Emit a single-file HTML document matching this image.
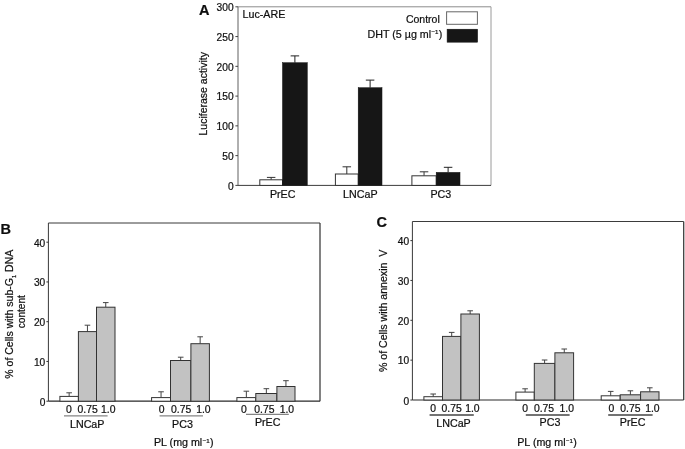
<!DOCTYPE html>
<html><head><meta charset="utf-8"><title>Figure</title>
<style>
html,body{margin:0;padding:0;background:#fff;}
svg{display:block;}
text{font-family:"Liberation Sans",sans-serif;fill:#111;stroke:#111;stroke-width:0.22;}
</style></head><body>
<svg width="685" height="449" viewBox="0 0 685 449">
<defs><filter id="soft" x="0" y="0" width="685" height="449" filterUnits="userSpaceOnUse"><feGaussianBlur stdDeviation="0.35"/></filter></defs>
<rect x="0" y="0" width="685" height="449" fill="#ffffff"/>
<g filter="url(#soft)">
<line x1="238" y1="6.8" x2="491" y2="6.8" stroke="#8c8c8c" stroke-width="1"/>
<line x1="491" y1="6.8" x2="491" y2="185.4" stroke="#9a9a9a" stroke-width="1"/>
<line x1="238" y1="6.8" x2="238" y2="185.4" stroke="#606060" stroke-width="1"/>
<line x1="238" y1="185.4" x2="491" y2="185.4" stroke="#3c3c3c" stroke-width="1"/>
<text x="199" y="14.7" font-size="14.5" text-anchor="start" font-weight="bold">A</text>
<line x1="235.4" y1="6.8" x2="238" y2="6.8" stroke="#444" stroke-width="1"/>
<text x="233.6" y="11.0" font-size="10.2" text-anchor="end">300</text>
<line x1="235.4" y1="36.56666666666666" x2="238" y2="36.56666666666666" stroke="#444" stroke-width="1"/>
<text x="233.6" y="40.766666666666666" font-size="10.2" text-anchor="end">250</text>
<line x1="235.4" y1="66.33333333333333" x2="238" y2="66.33333333333333" stroke="#444" stroke-width="1"/>
<text x="233.6" y="70.53333333333333" font-size="10.2" text-anchor="end">200</text>
<line x1="235.4" y1="96.1" x2="238" y2="96.1" stroke="#444" stroke-width="1"/>
<text x="233.6" y="100.3" font-size="10.2" text-anchor="end">150</text>
<line x1="235.4" y1="125.86666666666666" x2="238" y2="125.86666666666666" stroke="#444" stroke-width="1"/>
<text x="233.6" y="130.06666666666666" font-size="10.2" text-anchor="end">100</text>
<line x1="235.4" y1="155.63333333333335" x2="238" y2="155.63333333333335" stroke="#444" stroke-width="1"/>
<text x="233.6" y="159.83333333333334" font-size="10.2" text-anchor="end">50</text>
<line x1="235.4" y1="185.4" x2="238" y2="185.4" stroke="#444" stroke-width="1"/>
<text x="233.6" y="189.6" font-size="10.2" text-anchor="end">0</text>
<text x="207" y="93.8" font-size="10.5" text-anchor="middle" transform="rotate(-90 207 93.8)">Luciferase activity</text>
<text x="242.5" y="18.1" font-size="10.7" text-anchor="start">Luc-ARE</text>
<text x="439.8" y="23.0" font-size="10.5" text-anchor="end">Control</text>
<text x="442.3" y="37.7" font-size="10.7" text-anchor="end">DHT (5 µg ml<tspan font-size="6.1" dy="-3.4" dx="0.4">−1</tspan><tspan dy="3.4" dx="0.3">)</tspan></text>
<rect x="446.6" y="11.8" width="30.8" height="12.5" fill="#fff" stroke="#666" stroke-width="1"/>
<rect x="447.1" y="29.2" width="30.5" height="13.0" fill="#141414" stroke="#141414" stroke-width="0.5"/>
<line x1="271.15" y1="177.4" x2="271.15" y2="179.8" stroke="#333" stroke-width="1"/>
<line x1="266.9" y1="177.4" x2="275.4" y2="177.4" stroke="#333" stroke-width="1"/>
<line x1="294.9" y1="55.9" x2="294.9" y2="62.7" stroke="#222" stroke-width="1"/>
<line x1="290.65" y1="55.9" x2="299.15" y2="55.9" stroke="#222" stroke-width="1"/>
<rect x="259.8" y="179.8" width="22.7" height="5.6" fill="#fff" stroke="#333" stroke-width="1"/>
<rect x="282.5" y="62.7" width="24.8" height="122.7" fill="#141414" stroke="#141414" stroke-width="0.5"/>
<text x="282.7" y="198.0" font-size="10.7" text-anchor="middle">PrEC</text>
<line x1="346.79999999999995" y1="166.8" x2="346.79999999999995" y2="174" stroke="#333" stroke-width="1"/>
<line x1="342.54999999999995" y1="166.8" x2="351.04999999999995" y2="166.8" stroke="#333" stroke-width="1"/>
<line x1="370.1" y1="80.1" x2="370.1" y2="87.7" stroke="#222" stroke-width="1"/>
<line x1="365.85" y1="80.1" x2="374.35" y2="80.1" stroke="#222" stroke-width="1"/>
<rect x="335.4" y="174" width="22.8" height="11.4" fill="#fff" stroke="#333" stroke-width="1"/>
<rect x="358.2" y="87.7" width="23.8" height="97.7" fill="#141414" stroke="#141414" stroke-width="0.5"/>
<text x="360.3" y="198.0" font-size="10.7" text-anchor="middle">LNCaP</text>
<line x1="424.04999999999995" y1="171.8" x2="424.04999999999995" y2="175.8" stroke="#333" stroke-width="1"/>
<line x1="419.79999999999995" y1="171.8" x2="428.29999999999995" y2="171.8" stroke="#333" stroke-width="1"/>
<line x1="448.1" y1="167.3" x2="448.1" y2="172.4" stroke="#222" stroke-width="1"/>
<line x1="443.85" y1="167.3" x2="452.35" y2="167.3" stroke="#222" stroke-width="1"/>
<rect x="411.9" y="175.8" width="24.3" height="9.6" fill="#fff" stroke="#333" stroke-width="1"/>
<rect x="436.2" y="172.4" width="23.8" height="13.0" fill="#141414" stroke="#141414" stroke-width="0.5"/>
<text x="440.8" y="198.0" font-size="10.7" text-anchor="middle">PC3</text>
<line x1="48.4" y1="223.0" x2="320.0" y2="223.0" stroke="#3a3a3a" stroke-width="1"/>
<line x1="320.0" y1="223.0" x2="320.0" y2="401.2" stroke="#383838" stroke-width="1.25"/>
<line x1="48.4" y1="223.0" x2="48.4" y2="401.2" stroke="#3a3a3a" stroke-width="1"/>
<line x1="48.4" y1="401.2" x2="320.0" y2="401.2" stroke="#2a2a2a" stroke-width="1.2"/>
<text x="0.6" y="234.1" font-size="14.5" text-anchor="start" font-weight="bold">B</text>
<line x1="46.4" y1="401.2" x2="48.4" y2="401.2" stroke="#333" stroke-width="1"/>
<text x="45.300000000000004" y="406.3" font-size="10.2" text-anchor="end">0</text>
<line x1="46.4" y1="361.45" x2="48.4" y2="361.45" stroke="#333" stroke-width="1"/>
<text x="45.300000000000004" y="365.75" font-size="10.2" text-anchor="end">10</text>
<line x1="46.4" y1="321.7" x2="48.4" y2="321.7" stroke="#333" stroke-width="1"/>
<text x="45.300000000000004" y="326.0" font-size="10.2" text-anchor="end">20</text>
<line x1="46.4" y1="281.95" x2="48.4" y2="281.95" stroke="#333" stroke-width="1"/>
<text x="45.300000000000004" y="286.25" font-size="10.2" text-anchor="end">30</text>
<line x1="46.4" y1="242.2" x2="48.4" y2="242.2" stroke="#333" stroke-width="1"/>
<text x="45.300000000000004" y="246.5" font-size="10.2" text-anchor="end">40</text>
<line x1="69.15" y1="392.8" x2="69.15" y2="396.4" stroke="#444" stroke-width="1"/>
<line x1="66.35000000000001" y1="392.8" x2="71.95" y2="392.8" stroke="#444" stroke-width="1"/>
<line x1="87.45" y1="325.2" x2="87.45" y2="331.6" stroke="#444" stroke-width="1"/>
<line x1="84.65" y1="325.2" x2="90.25" y2="325.2" stroke="#444" stroke-width="1"/>
<line x1="105.75" y1="302.6" x2="105.75" y2="307.2" stroke="#444" stroke-width="1"/>
<line x1="102.95" y1="302.6" x2="108.55" y2="302.6" stroke="#444" stroke-width="1"/>
<rect x="59.9" y="396.4" width="18.5" height="4.8" fill="#fff" stroke="#333" stroke-width="1"/>
<rect x="78.4" y="331.6" width="18.1" height="69.6" fill="#c2c2c2" stroke="#333" stroke-width="1"/>
<rect x="96.5" y="307.2" width="18.5" height="94.0" fill="#c2c2c2" stroke="#333" stroke-width="1"/>
<text x="68.8" y="412.85" font-size="10.4" text-anchor="middle">0</text>
<text x="87.6" y="412.85" font-size="10.4" text-anchor="middle">0.75</text>
<text x="108.2" y="412.85" font-size="10.4" text-anchor="middle">1.0</text>
<line x1="64" y1="415.9" x2="107.6" y2="415.9" stroke="#666" stroke-width="1"/>
<text x="87.2" y="428.1" font-size="10.7" text-anchor="middle">LNCaP</text>
<line x1="161.05" y1="391.8" x2="161.05" y2="397.6" stroke="#444" stroke-width="1"/>
<line x1="158.25" y1="391.8" x2="163.85000000000002" y2="391.8" stroke="#444" stroke-width="1"/>
<line x1="180.7" y1="357.2" x2="180.7" y2="360.5" stroke="#444" stroke-width="1"/>
<line x1="177.89999999999998" y1="357.2" x2="183.5" y2="357.2" stroke="#444" stroke-width="1"/>
<line x1="200.15" y1="336.8" x2="200.15" y2="343.7" stroke="#444" stroke-width="1"/>
<line x1="197.35" y1="336.8" x2="202.95000000000002" y2="336.8" stroke="#444" stroke-width="1"/>
<rect x="151.6" y="397.6" width="18.9" height="3.6" fill="#fff" stroke="#333" stroke-width="1"/>
<rect x="170.5" y="360.5" width="20.4" height="40.7" fill="#c2c2c2" stroke="#333" stroke-width="1"/>
<rect x="190.9" y="343.7" width="18.5" height="57.5" fill="#c2c2c2" stroke="#333" stroke-width="1"/>
<text x="161.6" y="412.85" font-size="10.4" text-anchor="middle">0</text>
<text x="181.2" y="412.85" font-size="10.4" text-anchor="middle">0.75</text>
<text x="203.4" y="412.85" font-size="10.4" text-anchor="middle">1.0</text>
<line x1="159.6" y1="415.9" x2="203" y2="415.9" stroke="#666" stroke-width="1"/>
<text x="182.5" y="428.3" font-size="10.7" text-anchor="middle">PC3</text>
<line x1="246.35000000000002" y1="391.2" x2="246.35000000000002" y2="397.6" stroke="#444" stroke-width="1"/>
<line x1="243.55" y1="391.2" x2="249.15000000000003" y2="391.2" stroke="#444" stroke-width="1"/>
<line x1="266.35" y1="388.7" x2="266.35" y2="393.5" stroke="#444" stroke-width="1"/>
<line x1="263.55" y1="388.7" x2="269.15000000000003" y2="388.7" stroke="#444" stroke-width="1"/>
<line x1="285.95" y1="380.7" x2="285.95" y2="386.5" stroke="#444" stroke-width="1"/>
<line x1="283.15" y1="380.7" x2="288.75" y2="380.7" stroke="#444" stroke-width="1"/>
<rect x="236.9" y="397.6" width="18.9" height="3.6" fill="#fff" stroke="#333" stroke-width="1"/>
<rect x="255.8" y="393.5" width="21.1" height="7.7" fill="#c2c2c2" stroke="#333" stroke-width="1"/>
<rect x="276.9" y="386.5" width="18.1" height="14.7" fill="#c2c2c2" stroke="#333" stroke-width="1"/>
<text x="244" y="412.85" font-size="10.4" text-anchor="middle">0</text>
<text x="264.4" y="412.85" font-size="10.4" text-anchor="middle">0.75</text>
<text x="286.9" y="412.85" font-size="10.4" text-anchor="middle">1.0</text>
<line x1="246" y1="414.3" x2="288.8" y2="414.3" stroke="#666" stroke-width="1"/>
<text x="267.7" y="426.3" font-size="10.7" text-anchor="middle">PrEC</text>
<text x="13.0" y="314.2" font-size="10.55" text-anchor="middle" transform="rotate(-90 13.0 314.2)">% of Cells with sub-G<tspan font-size="5.6" dy="2.6">1</tspan><tspan dy="-2.6"> DNA</tspan></text>
<text x="25.5" y="311.7" font-size="10.1" text-anchor="middle" transform="rotate(-90 25.5 311.7)">content</text>
<text x="183.7" y="446" font-size="10.7" text-anchor="middle">PL (mg ml<tspan font-size="6.1" dy="-3.4" dx="0.4">−1</tspan><tspan dy="3.4" dx="0.3">)</tspan></text>
<line x1="412.4" y1="221.5" x2="683.7" y2="221.5" stroke="#3a3a3a" stroke-width="1"/>
<line x1="683.7" y1="221.5" x2="683.7" y2="400.0" stroke="#383838" stroke-width="1.25"/>
<line x1="412.4" y1="221.5" x2="412.4" y2="400.0" stroke="#3a3a3a" stroke-width="1"/>
<line x1="412.4" y1="400.0" x2="683.7" y2="400.0" stroke="#2a2a2a" stroke-width="1.2"/>
<text x="376.6" y="227.2" font-size="14.5" text-anchor="start" font-weight="bold">C</text>
<line x1="410.4" y1="400.0" x2="412.4" y2="400.0" stroke="#333" stroke-width="1"/>
<text x="409.09999999999997" y="404.6" font-size="10.2" text-anchor="end">0</text>
<line x1="410.4" y1="360.15" x2="412.4" y2="360.15" stroke="#333" stroke-width="1"/>
<text x="409.09999999999997" y="364.45" font-size="10.2" text-anchor="end">10</text>
<line x1="410.4" y1="320.3" x2="412.4" y2="320.3" stroke="#333" stroke-width="1"/>
<text x="409.09999999999997" y="324.6" font-size="10.2" text-anchor="end">20</text>
<line x1="410.4" y1="280.45" x2="412.4" y2="280.45" stroke="#333" stroke-width="1"/>
<text x="409.09999999999997" y="284.75" font-size="10.2" text-anchor="end">30</text>
<line x1="410.4" y1="240.6" x2="412.4" y2="240.6" stroke="#333" stroke-width="1"/>
<text x="409.09999999999997" y="244.9" font-size="10.2" text-anchor="end">40</text>
<line x1="433.2" y1="394.0" x2="433.2" y2="396.7" stroke="#444" stroke-width="1"/>
<line x1="430.4" y1="394.0" x2="436.0" y2="394.0" stroke="#444" stroke-width="1"/>
<line x1="451.7" y1="332.4" x2="451.7" y2="336.4" stroke="#444" stroke-width="1"/>
<line x1="448.9" y1="332.4" x2="454.5" y2="332.4" stroke="#444" stroke-width="1"/>
<line x1="470.15" y1="310.8" x2="470.15" y2="314.0" stroke="#444" stroke-width="1"/>
<line x1="467.34999999999997" y1="310.8" x2="472.95" y2="310.8" stroke="#444" stroke-width="1"/>
<rect x="423.9" y="396.7" width="18.6" height="3.3" fill="#fff" stroke="#333" stroke-width="1"/>
<rect x="442.5" y="336.4" width="18.4" height="63.6" fill="#c2c2c2" stroke="#333" stroke-width="1"/>
<rect x="460.9" y="314.0" width="18.5" height="86.0" fill="#c2c2c2" stroke="#333" stroke-width="1"/>
<text x="433.2" y="412.2" font-size="10.4" text-anchor="middle">0</text>
<text x="451.6" y="412.2" font-size="10.4" text-anchor="middle">0.75</text>
<text x="472.4" y="412.2" font-size="10.4" text-anchor="middle">1.0</text>
<line x1="429.6" y1="415.0" x2="473.8" y2="415.0" stroke="#444" stroke-width="1.4"/>
<text x="453.5" y="426.8" font-size="10.7" text-anchor="middle">LNCaP</text>
<line x1="525.0999999999999" y1="388.8" x2="525.0999999999999" y2="392.1" stroke="#444" stroke-width="1"/>
<line x1="522.3" y1="388.8" x2="527.8999999999999" y2="388.8" stroke="#444" stroke-width="1"/>
<line x1="544.5999999999999" y1="360.0" x2="544.5999999999999" y2="363.4" stroke="#444" stroke-width="1"/>
<line x1="541.8" y1="360.0" x2="547.3999999999999" y2="360.0" stroke="#444" stroke-width="1"/>
<line x1="564.25" y1="349.0" x2="564.25" y2="352.8" stroke="#444" stroke-width="1"/>
<line x1="561.45" y1="349.0" x2="567.05" y2="349.0" stroke="#444" stroke-width="1"/>
<rect x="515.9" y="392.1" width="18.4" height="7.9" fill="#fff" stroke="#333" stroke-width="1"/>
<rect x="534.3" y="363.4" width="20.6" height="36.6" fill="#c2c2c2" stroke="#333" stroke-width="1"/>
<rect x="554.9" y="352.8" width="18.7" height="47.2" fill="#c2c2c2" stroke="#333" stroke-width="1"/>
<text x="525.2" y="412.2" font-size="10.4" text-anchor="middle">0</text>
<text x="544" y="412.2" font-size="10.4" text-anchor="middle">0.75</text>
<text x="566.8" y="412.2" font-size="10.4" text-anchor="middle">1.0</text>
<line x1="525.8" y1="415.0" x2="569.6" y2="415.0" stroke="#444" stroke-width="1.4"/>
<text x="550" y="426.2" font-size="10.7" text-anchor="middle">PC3</text>
<line x1="610.7" y1="391.4" x2="610.7" y2="395.8" stroke="#444" stroke-width="1"/>
<line x1="607.9000000000001" y1="391.4" x2="613.5" y2="391.4" stroke="#444" stroke-width="1"/>
<line x1="630.4000000000001" y1="390.8" x2="630.4000000000001" y2="394.8" stroke="#444" stroke-width="1"/>
<line x1="627.6000000000001" y1="390.8" x2="633.2" y2="390.8" stroke="#444" stroke-width="1"/>
<line x1="649.8" y1="387.8" x2="649.8" y2="391.8" stroke="#444" stroke-width="1"/>
<line x1="647.0" y1="387.8" x2="652.5999999999999" y2="387.8" stroke="#444" stroke-width="1"/>
<rect x="601.2" y="395.8" width="19.0" height="4.2" fill="#fff" stroke="#333" stroke-width="1"/>
<rect x="620.2" y="394.8" width="20.4" height="5.2" fill="#c2c2c2" stroke="#333" stroke-width="1"/>
<rect x="640.6" y="391.8" width="18.4" height="8.2" fill="#c2c2c2" stroke="#333" stroke-width="1"/>
<text x="611.4" y="412.2" font-size="10.4" text-anchor="middle">0</text>
<text x="630.4" y="412.2" font-size="10.4" text-anchor="middle">0.75</text>
<text x="652.4" y="412.2" font-size="10.4" text-anchor="middle">1.0</text>
<line x1="608.2" y1="415.0" x2="652.6" y2="415.0" stroke="#444" stroke-width="1.4"/>
<text x="632.6" y="426.3" font-size="10.7" text-anchor="middle">PrEC</text>
<text x="386.6" y="310.85" font-size="10.6" text-anchor="middle" transform="rotate(-90 386.6 310.85)">% of Cells with annexin&#160;&#160;V</text>
<text x="547" y="446.0" font-size="10.7" text-anchor="middle">PL (mg ml<tspan font-size="6.1" dy="-3.4" dx="0.4">−1</tspan><tspan dy="3.4" dx="0.3">)</tspan></text>
</g>
</svg>
</body></html>
